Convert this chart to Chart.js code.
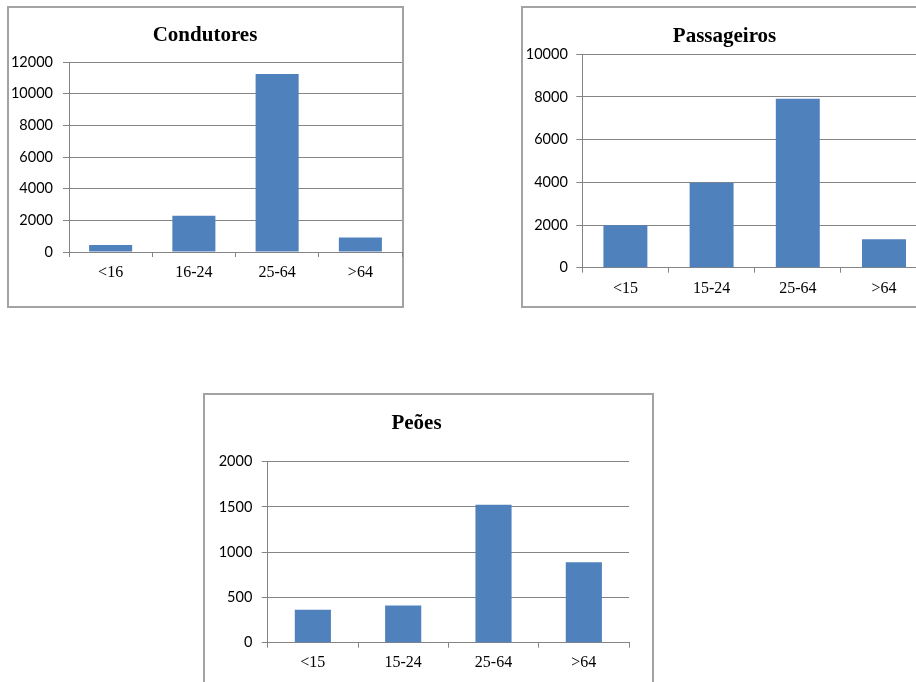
<!DOCTYPE html>
<html>
<head>
<meta charset="utf-8">
<script src="https://cdn.jsdelivr.net/npm/chart.js@4/dist/chart.umd.min.js"></script>
<style>
  html, body { margin: 0; padding: 0; background: #fff; overflow: hidden; width: 916px; height: 682px; }
  .frame { position: absolute; box-sizing: border-box; border: 2px solid #a3a3a3; }
  canvas { position: absolute; }
</style>
</head>
<body>
<div class="frame" style="left:7px;top:6px;width:397px;height:302px"></div>
<div class="frame" style="left:521px;top:6px;width:408px;height:302px"></div>
<div class="frame" style="left:203px;top:393px;width:451px;height:320px"></div>
<canvas id="c1" width="395" height="300" style="left:8px;top:7px"></canvas>
<canvas id="c2" width="406" height="300" style="left:522px;top:7px"></canvas>
<canvas id="c3" width="449" height="288" style="left:204px;top:394px"></canvas>
<script>
// Vítimas por grupo etário
const condutoresLabels = ['<16', '16-24', '25-64', '>64'];
const condutoresValues = [450, 2290, 11250, 920];
const condutoresTicks = { max: 12000, step: 2000 };

const passageirosLabels = ['<15', '15-24', '25-64', '>64'];
const passageirosValues = [1990, 3980, 7920, 1330];
const passageirosTicks = { max: 10000, step: 2000 };

const peoesLabels = ['<15', '15-24', '25-64', '>64'];
const peoesValues = [365, 410, 1525, 890];
const peoesTicks = { max: 2000, step: 500 };

const BAR_COLOR = '#4f81bd';
const GRID_COLOR = '#848484';

function makeChart(id, title, labels, values, ticks, g) {
  return new Chart(document.getElementById(id), {
    type: 'bar',
    data: {
      labels: labels,
      datasets: [{ data: values, backgroundColor: BAR_COLOR, borderWidth: 0,
                   barPercentage: g.bar, categoryPercentage: 1 }]
    },
    options: {
      responsive: false,
      animation: false,
      layout: { padding: { left: 0, right: g.padRight, top: 0, bottom: 0 } },
      plugins: {
        legend: { display: false },
        tooltip: { enabled: false },
        title: {
          display: true,
          text: title,
          color: '#000',
          font: { family: 'Liberation Serif', size: 21, weight: 'bold' },
          padding: { top: g.titleTop, bottom: g.titleBottom }
        }
      },
      scales: {
        x: {
          grid: { drawOnChartArea: false, color: GRID_COLOR, tickLength: 5, offset: true },
          border: { color: GRID_COLOR, width: 1 },
          ticks: { color: '#000', padding: g.xPad, maxRotation: 0,
                   font: { family: 'Liberation Serif', size: 16 } },
          afterFit: s => { s.height = g.xHeight; }
        },
        y: {
          min: 0, max: ticks.max,
          grid: { color: GRID_COLOR, tickLength: 6 },
          border: { color: GRID_COLOR, width: 1 },
          ticks: { stepSize: ticks.step, color: '#000', padding: g.yPad,
                   font: { family: 'Lato', size: 14.5 },
                   callback: v => String(v) },
          afterFit: s => { s.width = g.yWidth; }
        }
      }
    }
  });
}

makeChart('c1', 'Condutores', condutoresLabels, condutoresValues, condutoresTicks,
  { bar: 0.517, padRight: 1, titleTop: 16.4, titleBottom: 13.4, xPad: 6.4, xHeight: 55, yPad: 10, yWidth: 61 });
makeChart('c2', 'Passageiros', passageirosLabels, passageirosValues, passageirosTicks,
  { bar: 0.51, padRight: 0.9, titleTop: 17.1, titleBottom: 5.0, xPad: 6, xHeight: 39.3, yPad: 8.5, yWidth: 60.3 });
makeChart('c3', 'Peões', peoesLabels, peoesValues, peoesTicks,
  { bar: 0.40, padRight: 24, titleTop: 16.7, titleBottom: 25.8, xPad: 5.4, xHeight: 39.3, yPad: 9.4, yWidth: 63.7 });
</script>
</body>
</html>
